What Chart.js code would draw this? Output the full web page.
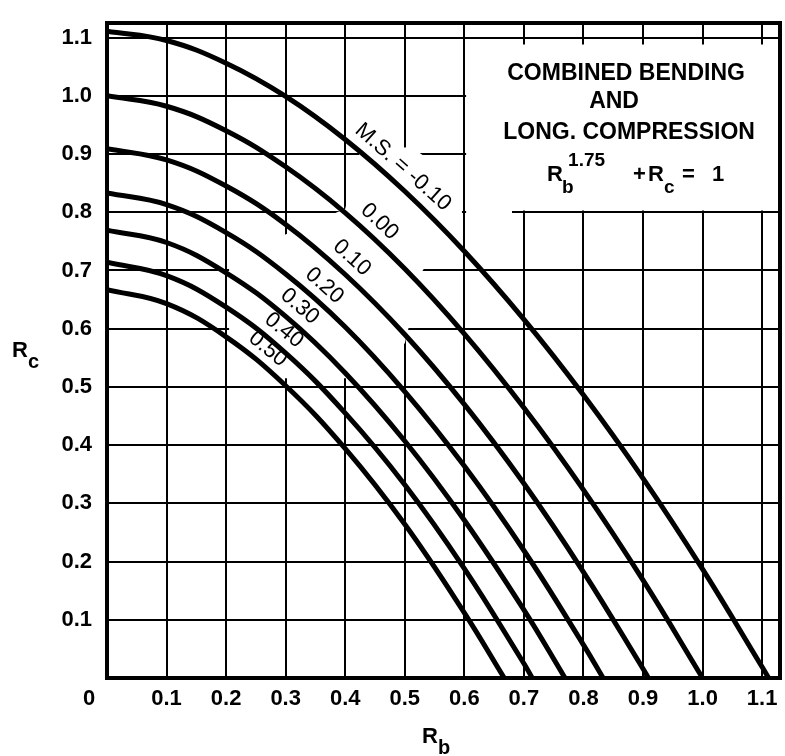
<!DOCTYPE html>
<html>
<head>
<meta charset="utf-8">
<script src="https://cdn.jsdelivr.net/npm/chart.js@4"></script>
<style>
  html, body { margin: 0; padding: 0; background: #fff; }
</style>
</head>
<body>
<canvas id="myCanvas" width="785" height="756"></canvas>
<script>
// margin of safety curves, Rb^1.75 + Rc = 1
var msLabels = ['M.S. = -0.10', '0.00', '0.10', '0.20', '0.30', '0.40', '0.50'];
var rbTicks = [0.1, 0.2, 0.3, 0.4, 0.5, 0.6, 0.7, 0.8, 0.9, 1.0, 1.1];
var rcTicks = [0.1, 0.2, 0.3, 0.4, 0.5, 0.6, 0.7, 0.8, 0.9, 1.0, 1.1];

var rb = [0, 0.1, 0.2, 0.3, 0.4, 0.5, 0.6, 0.7, 0.8, 0.9, 1.0, 1.1];
var rcMsMinus10 = [1.111, 1.095, 1.056, 0.999, 0.925, 0.836, 0.733, 0.616, 0.486, 0.343, 0.187, 0.019];
var rcMs00 = [1.0, 0.982, 0.940, 0.878, 0.799, 0.703, 0.591, 0.464, 0.323, 0.168];
var rcMs10 = [0.909, 0.890, 0.845, 0.779, 0.693, 0.590, 0.470, 0.334, 0.182, 0.016];
var rcMs20 = [0.833, 0.813, 0.765, 0.694, 0.603, 0.492, 0.364, 0.219, 0.057];
var rcMs30 = [0.769, 0.748, 0.696, 0.621, 0.524, 0.407, 0.271, 0.117];
var rcMs40 = [0.714, 0.691, 0.637, 0.558, 0.455, 0.332, 0.188, 0.025];
var rcMs50 = [0.667, 0.643, 0.586, 0.502, 0.394, 0.264, 0.112];
// where each curve meets Rc = 0
var rbAtZeroRc = [1.111, 1.0, 0.909, 0.833, 0.769, 0.714, 0.667];

var rcSeries = [rcMsMinus10, rcMs00, rcMs10, rcMs20, rcMs30, rcMs40, rcMs50];

function curvePoints(rc, k) {
  var pts = rc.map(function (y, i) { return { x: rb[i], y: y }; });
  pts.push({ x: rbAtZeroRc[k], y: 0 });
  return pts;
}

var FONT = 'Liberation Sans';

var paperPlugin = {
  id: 'paper',
  beforeDatasetsDraw: function (chart, args, opts) {
    var ctx = chart.ctx, xs = chart.scales.x, ys = chart.scales.y;
    ctx.save();
    // white areas where the grid is left out
    ctx.fillStyle = '#fff';
    [opts.blank, opts.box].forEach(function (poly) {
      ctx.beginPath();
      poly.forEach(function (p, i) {
        var px = xs.getPixelForValue(p[0]), py = ys.getPixelForValue(p[1]);
        if (i === 0) ctx.moveTo(px, py); else ctx.lineTo(px, py);
      });
      ctx.closePath();
      ctx.fill();
    });

    // labels riding on each curve
    ctx.font = 'normal 22px "' + FONT + '"';
    ctx.textAlign = 'center';
    ctx.textBaseline = 'middle';
    opts.labelAt.forEach(function (at, k) {
      var pts = chart.data.datasets[k].data;
      function rcAt(v) {
        for (var i = 1; i < pts.length; i++) {
          if (v <= pts[i].x) {
            var a = pts[i - 1], b = pts[i];
            return a.y + (b.y - a.y) * (v - a.x) / (b.x - a.x);
          }
        }
        return 0;
      }
      var x0 = xs.getPixelForValue(at - 0.03), y0 = ys.getPixelForValue(rcAt(at - 0.03));
      var x1 = xs.getPixelForValue(at + 0.03), y1 = ys.getPixelForValue(rcAt(at + 0.03));
      var ang = Math.atan2(y1 - y0, x1 - x0);
      var cx = xs.getPixelForValue(at), cy = ys.getPixelForValue(rcAt(at));
      var off = opts.labelOffset;
      var text = chart.data.datasets[k].label;
      var w = ctx.measureText(text).width;
      ctx.save();
      ctx.translate(cx + Math.sin(ang) * off, cy - Math.cos(ang) * off);
      ctx.rotate(ang);
      ctx.fillStyle = '#fff';
      ctx.fillRect(-w / 2 - 3, -11, w + 6, 22);
      ctx.fillStyle = '#000';
      ctx.fillText(text, 0, 1);
      ctx.restore();
    });
    ctx.restore();
  },
  afterDatasetsDraw: function (chart, args, opts) {
    var ctx = chart.ctx, area = chart.chartArea, xs = chart.scales.x, ys = chart.scales.y;
    ctx.save();
    // top and right frame
    ctx.strokeStyle = '#000';
    ctx.lineWidth = 4;
    ctx.beginPath();
    ctx.moveTo(area.left - 2, area.top);
    ctx.lineTo(area.right, area.top);
    ctx.lineTo(area.right, area.bottom + 2);
    ctx.stroke();

    ctx.fillStyle = '#000';
    // shared zero at the corner
    ctx.font = 'bold 22px "' + FONT + '"';
    ctx.textAlign = 'center';
    ctx.textBaseline = 'middle';
    ctx.fillText('0', area.left - 18, area.bottom + 21);

    // title block
    var cx = (xs.getPixelForValue(opts.box[0][0]) + area.right) / 2;
    var top = ys.getPixelForValue(opts.box[0][1]);
    ctx.font = 'bold 23px "' + FONT + '"';
    ctx.fillText('COMBINED BENDING', cx + 3, top + 29);
    ctx.fillText('AND', cx - 9, top + 57);
    ctx.fillText('LONG. COMPRESSION', cx + 6, top + 88);

    ctx.textAlign = 'left';
    ctx.textBaseline = 'alphabetic';
    var base = top + 136;
    ctx.font = 'bold 22px "' + FONT + '"';
    ctx.fillText('R', cx - 76, base);
    ctx.fillText('+', cx + 10, base);
    ctx.fillText('R', cx + 25, base);
    ctx.fillText('=', cx + 59, base);
    ctx.fillText('1', cx + 89, base);
    ctx.font = 'bold 19px "' + FONT + '"';
    ctx.fillText('b', cx - 61, base + 12);
    ctx.fillText('c', cx + 41, base + 12);
    ctx.fillText('1.75', cx - 55, base - 15);

    // axis titles
    ctx.font = 'bold 22px "' + FONT + '"';
    ctx.fillText('R', 12, 357);
    ctx.fillText('R', 422, 743);
    ctx.font = 'bold 20px "' + FONT + '"';
    ctx.fillText('c', 28, 368);
    ctx.fillText('b', 438, 754);
    ctx.restore();
  }
};

var ctx = document.getElementById('myCanvas').getContext('2d');
var chart = new Chart(ctx, {
  type: 'scatter',
  data: {
    datasets: rcSeries.map(function (rc, k) {
      return {
        label: msLabels[k],
        data: curvePoints(rc, k),
        showLine: true,
        borderColor: '#000',
        borderWidth: 5,
        pointRadius: 0,
        tension: 0.4
      };
    })
  },
  options: {
    responsive: false,
    animation: false,
    devicePixelRatio: 1,
    layout: { padding: { left: 40, right: 5, top: 23, bottom: 40 } },
    plugins: {
      legend: { display: false },
      tooltip: { enabled: false },
      paper: {
        labelAt: [0.478, 0.438, 0.392, 0.346, 0.305, 0.279, 0.252],
        labelOffset: 18,
        blank: [[0.205, 0.72], [0.40, 0.806], [0.425, 0.905], [0.51, 0.912], [0.535, 0.895],
                [0.596, 0.81], [0.596, 0.79], [0.53, 0.70], [0.50, 0.575], [0.44, 0.515], [0.205, 0.515]],
        box: [[0.603, 1.088], [1.13, 1.088], [1.13, 0.803], [0.68, 0.803], [0.68, 0.795], [0.603, 0.795]]
      }
    },
    scales: {
      x: {
        type: 'linear',
        min: 0,
        max: 1.13,
        afterBuildTicks: function (axis) { axis.ticks = rbTicks.map(function (v) { return { value: v }; }); },
        afterFit: function (axis) {
          axis.height = 38;
          axis.paddingLeft = 0;
          axis.paddingRight = 0;
        },
        grid: { color: '#000', lineWidth: 2, drawTicks: false },
        border: { display: true, color: '#000', width: 4 },
        ticks: {
          autoSkip: false,
          maxRotation: 0,
          padding: 8,
          color: '#000',
          font: { family: FONT, size: 22, weight: 'bold' },
          callback: function (v) { return v.toFixed(1); }
        }
      },
      y: {
        type: 'linear',
        min: 0,
        max: 1.125,
        afterBuildTicks: function (axis) { axis.ticks = rcTicks.map(function (v) { return { value: v }; }); },
        afterFit: function (axis) {
          axis.width = 67;
          axis.paddingTop = 0;
          axis.paddingBottom = 0;
        },
        grid: { color: '#000', lineWidth: 2, drawTicks: false },
        border: { display: true, color: '#000', width: 4 },
        ticks: {
          padding: 15,
          color: '#000',
          font: { family: FONT, size: 22, weight: 'bold' },
          callback: function (v) { return v.toFixed(1); }
        }
      }
    }
  },
  plugins: [paperPlugin]
});
</script>
</body>
</html>
